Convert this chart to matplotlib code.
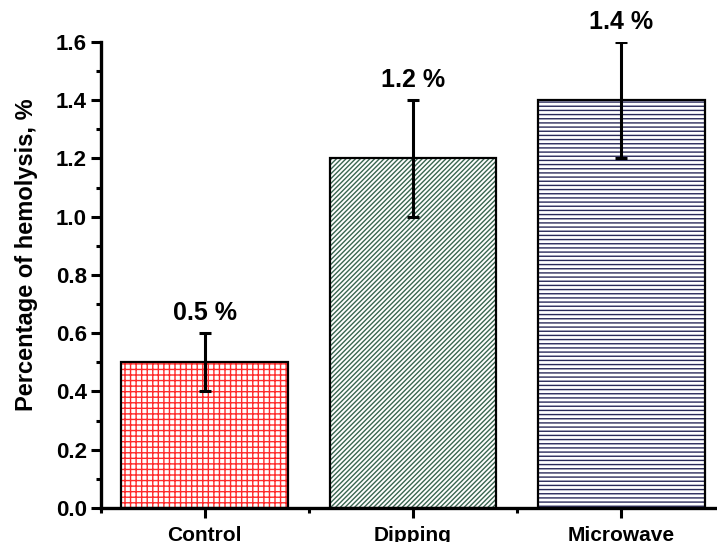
import matplotlib
matplotlib.use("Agg")
import matplotlib.pyplot as plt
from matplotlib.ticker import MultipleLocator, FormatStrFormatter

categories = ["Control", "Dipping", "Microwave"]
values = [0.5, 1.2, 1.4]
errors = [0.1, 0.2, 0.2]
labels = ["0.5 %", "1.2 %", "1.4 %"]

hatches = ["+++", "///////", "----"]
hatch_colors = ["#ff2a2a", "#3a6650", "#2a2a5a"]

plt.rcParams['font.family'] = ['Liberation Sans', 'DejaVu Sans']
plt.rcParams['font.weight'] = 'bold'
plt.rcParams['hatch.linewidth'] = 1.0

fig = plt.figure(figsize=(7.17, 5.42), dpi=100)
ax = fig.add_axes([0.1402, 0.0627, 0.8717, 0.86])

x = list(range(1, len(categories) + 1))
for xi, v, h, hc in zip(x, values, hatches, hatch_colors):
    ax.bar(xi, v, width=0.8, color='white', edgecolor=hc, hatch=h, linewidth=0, zorder=2)
ax.bar(x, values, width=0.8, fill=False, edgecolor='black', linewidth=1.6, zorder=3)
ax.errorbar(x, values, yerr=errors, fmt='none', ecolor='black', elinewidth=2.2,
            capsize=4.5, capthick=2.2, zorder=4)
for xi, v, e, lab in zip(x, values, errors, labels):
    ax.annotate(lab, (xi, v + e), xytext=(0, 6), textcoords='offset points',
                ha='center', va='bottom', fontsize=18, fontweight='bold')

ax.set_xlim(0.5, 3.5)
ax.set_ylim(0, 1.6)
ax.set_xticks(x)
ax.set_xticklabels(categories, fontsize=15, fontweight='bold')
ax.xaxis.set_minor_locator(MultipleLocator(0.5))
ax.yaxis.set_major_locator(MultipleLocator(0.2))
ax.yaxis.set_minor_locator(MultipleLocator(0.1))
ax.yaxis.set_major_formatter(FormatStrFormatter('%.1f'))
for t in ax.get_yticklabels():
    t.set_fontsize(16)
    t.set_fontweight('bold')
ax.tick_params(axis='both', which='major', direction='out', length=7, width=2.2)
ax.tick_params(axis='both', which='minor', direction='out', length=3.5, width=2.2)
ax.tick_params(axis='x', which='major', pad=6)
ax.tick_params(axis='y', which='major', pad=3)
ax.spines['top'].set_visible(False)
ax.spines['right'].set_visible(False)
ax.spines['left'].set_linewidth(2.4)
ax.spines['bottom'].set_linewidth(2.4)
ax.set_ylabel("Percentage of hemolysis, %", fontsize=17, fontweight='bold')
ax.yaxis.set_label_coords(-0.1, 0.543)

fig.savefig("out.png", dpi=100)
